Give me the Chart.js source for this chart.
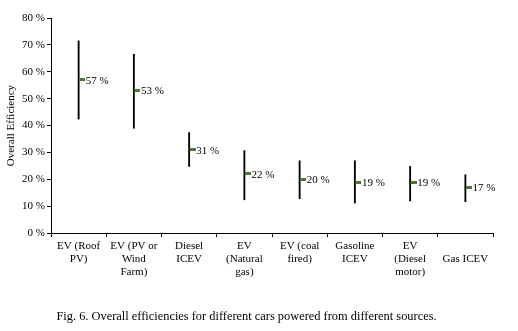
<!DOCTYPE html>
<html>
<head>
<meta charset="utf-8">
<script src="https://cdn.jsdelivr.net/npm/chart.js@4/dist/chart.umd.min.js"></script>
<style>
  html, body { margin: 0; padding: 0; background: #fff; }
  #wrap { width: 518px; height: 331px; }
</style>
</head>
<body>
<div id="wrap"><canvas id="effChart" width="518" height="331"></canvas></div>
<script>
"use strict";

var categories = [
  ['EV (Roof', 'PV)'],
  ['EV (PV or', 'Wind', 'Farm)'],
  ['Diesel', 'ICEV'],
  ['EV', '(Natural', 'gas)'],
  ['EV (coal', 'fired)'],
  ['Gasoline', 'ICEV'],
  ['EV', '(Diesel', 'motor)'],
  ['', 'Gas ICEV']
];
var lowValues = [42.4, 39, 24.8, 12.4, 12.8, 11.2, 12, 11.7];
var highValues = [71.5, 66.5, 37.4, 30.7, 26.9, 26.9, 24.8, 21.7];
var meanValues = [57, 53, 31, 22, 20, 19, 19, 17];
var yTicks = [0, 10, 20, 30, 40, 50, 60, 70, 80];

var SERIF = "'Liberation Serif', 'Times New Roman', serif";
var GREEN = '#4E7A2E';

// small marker: only the right half is painted, so it sits right of the range line
var makeMarker = function () {
  var c = document.createElement('canvas');
  c.width = 13;
  c.height = 3;
  var cx = c.getContext('2d');
  cx.fillStyle = GREEN;
  cx.fillRect(7, 0, 6, 3);
  return c;
};

var meanLabels = {
  id: 'meanLabels',
  afterDatasetsDraw: function (chart) {
    var meta = chart.getDatasetMeta(1);
    var ctx = chart.ctx;
    ctx.save();
    ctx.font = '11px ' + SERIF;
    ctx.fillStyle = '#000';
    ctx.textAlign = 'left';
    ctx.textBaseline = 'middle';
    meta.data.forEach(function (pt, i) {
      ctx.fillText(meanValues[i] + ' %', pt.x + 7, pt.y + 1);
    });
    ctx.restore();
  }
};

var rangeData = lowValues.map(function (lo, i) { return [lo, highValues[i]]; });

var ctxEl = document.getElementById('effChart').getContext('2d');
new Chart(ctxEl, {
  type: 'bar',
  data: {
    labels: categories,
    datasets: [
      {
        label: 'Range',
        data: rangeData,
        backgroundColor: '#000',
        barThickness: 1.2,
        borderWidth: 0,
        order: 2
      },
      {
        type: 'line',
        label: 'Mean',
        data: meanValues,
        showLine: false,
        pointStyle: makeMarker(),
        pointRadius: 6,
        order: 1
      }
    ]
  },
  options: {
    responsive: false,
    animation: false,
    layout: { padding: { top: 18, right: 25, left: 0, bottom: 0 } },
    plugins: {
      legend: { display: false },
      tooltip: { enabled: false },
      title: {
        display: true,
        position: 'bottom',
        text: 'Fig. 6. Overall efficiencies for different cars powered from different sources.',
        color: '#000',
        font: { family: SERIF, size: 12.4, weight: 'normal' },
        padding: { top: 0, bottom: 7 }
      }
    },
    scales: {
      x: {
        grid: { display: true, drawOnChartArea: false, drawTicks: true, tickLength: 4, color: '#000', offset: true },
        border: { display: true, color: '#000', width: 1 },
        ticks: {
          color: '#000',
          font: { family: SERIF, size: 11, lineHeight: 1.2 },
          maxRotation: 0,
          autoSkip: false,
          padding: 2
        },
        afterFit: function (scale) { scale.height = 76; }
      },
      y: {
        min: 0,
        max: 80,
        afterBuildTicks: function (scale) {
          scale.ticks = yTicks.map(function (v) { return { value: v }; });
        },
        grid: { display: true, drawOnChartArea: false, drawTicks: true, tickLength: 4, color: '#000' },
        border: { display: true, color: '#000', width: 1 },
        ticks: {
          color: '#000',
          font: { family: SERIF, size: 11 },
          padding: 2,
          callback: function (v) { return v + ' %'; }
        },
        title: {
          display: true,
          text: 'Overall Efficiency',
          color: '#000',
          font: { family: SERIF, size: 11 },
          padding: { top: 5, bottom: 0 }
        },
        afterFit: function (scale) { scale.width = 51; }
      }
    }
  },
  plugins: [meanLabels]
});
</script>
</body>
</html>
